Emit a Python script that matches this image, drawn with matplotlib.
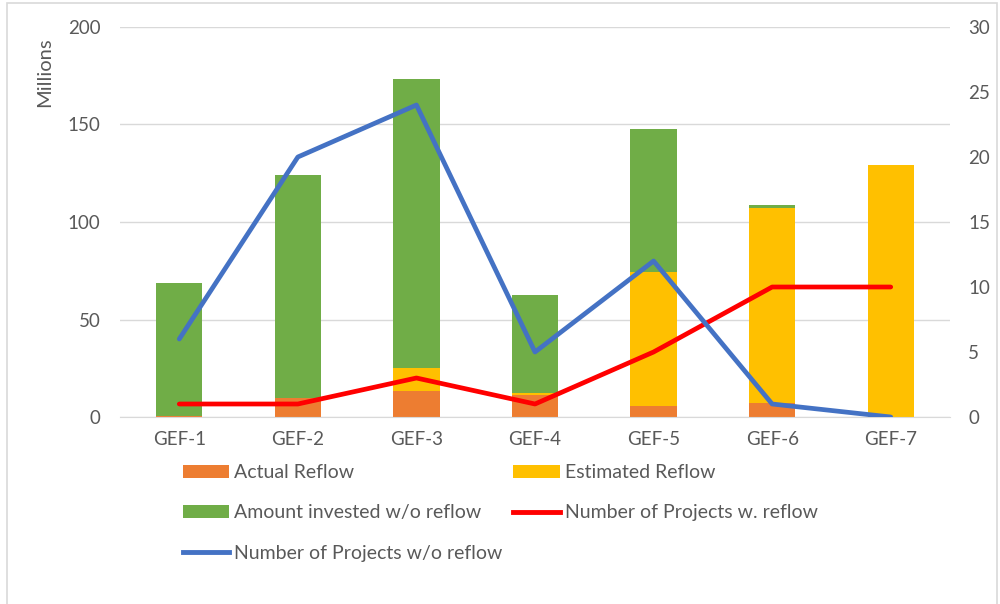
import matplotlib.pyplot as plt
import numpy as np
from matplotlib.patches import Rectangle
from matplotlib.lines import Line2D

plt.rcParams['font.family'] = ['Lato', 'DejaVu Sans']

# values
categories = ["GEF-1", "GEF-2", "GEF-3", "GEF-4", "GEF-5", "GEF-6", "GEF-7"]
actual_reflow = [0.7, 9.6, 13.3, 11.3, 5.8, 7.0, 0.0]
estimated_reflow = [0.0, 0.0, 11.8, 0.9, 68.6, 100.2, 129.2]
invested_wo_reflow = [68.0, 114.5, 148.2, 50.4, 73.3, 1.5, 0.0]
projects_w_reflow = [1, 1, 3, 1, 5, 10, 10]
projects_wo_reflow = [6, 20, 24, 5, 12, 1, 0]

c_orange = "#ED7D31"
c_yellow = "#FFC000"
c_green = "#70AD47"
c_red = "#FF0000"
c_blue = "#4472C4"
c_text = "#595959"
c_grid = "#D9D9D9"

fig = plt.figure(figsize=(10, 6.04), dpi=100)
ax = fig.add_axes([0.12, 0.3096, 0.83, 0.6457])

x = np.arange(len(categories))
w = 0.39
act = np.array(actual_reflow)
est = np.array(estimated_reflow)
inv = np.array(invested_wo_reflow)

b1 = ax.bar(x, act, w, color=c_orange, label="Actual Reflow", zorder=2)
b2 = ax.bar(x, est, w, bottom=act, color=c_yellow, label="Estimated Reflow", zorder=2)
b3 = ax.bar(x, inv, w, bottom=act + est, color=c_green,
            label="Amount invested w/o reflow", zorder=2)

ax.set_ylim(0, 200)
ax.set_xlim(-0.5, len(categories) - 0.5)
ax.set_yticks([0, 50, 100, 150, 200])
ax.set_xticks(x)
ax.set_xticklabels(categories)
ax.grid(axis='y', color=c_grid, linewidth=1, zorder=0)
ax.set_axisbelow(True)
for s in ["top", "left", "right"]:
    ax.spines[s].set_visible(False)
ax.spines["bottom"].set_color(c_grid)
ax.tick_params(length=0, labelsize=13.5, colors=c_text, pad=10)
ax.tick_params(axis='y', pad=14)

ax2 = ax.twinx()
l1, = ax2.plot(x, projects_w_reflow, color=c_red, linewidth=3.4,
               solid_capstyle='round', label="Number of Projects w. reflow")
l2, = ax2.plot(x, projects_wo_reflow, color=c_blue, linewidth=3.4,
               solid_capstyle='round', label="Number of Projects w/o reflow")
ax2.set_ylim(0, 30)
ax2.set_yticks([0, 5, 10, 15, 20, 25, 30])
for s in ax2.spines.values():
    s.set_visible(False)
ax2.tick_params(length=0, labelsize=13.5, colors=c_text, pad=13)

fig.text(0.045, 0.88, "Millions", rotation=90, ha='center', va='center',
         fontsize=14.5, color=c_text)

handles = [b1, b3, Line2D([], [], color=c_blue, linewidth=3.5),
           b2, Line2D([], [], color=c_red, linewidth=3.5)]
labels = ["Actual Reflow", "Amount invested w/o reflow", "Number of Projects w/o reflow",
          "Estimated Reflow", "Number of Projects w. reflow"]
leg = fig.legend(handles, labels, ncol=2, loc='upper left',
                 bbox_to_anchor=(0.173, 0.248), frameon=False, fontsize=14,
                 labelcolor=c_text, handlelength=2.4, handleheight=0.65,
                 handletextpad=0.25, columnspacing=0.55, labelspacing=1.2,
                 borderpad=0)

fig.add_artist(Rectangle((0.007, -0.01), 0.99, 1.005, transform=fig.transFigure,
                         fill=False, edgecolor=c_grid, linewidth=1.2))

fig.savefig("out.png", dpi=100)
